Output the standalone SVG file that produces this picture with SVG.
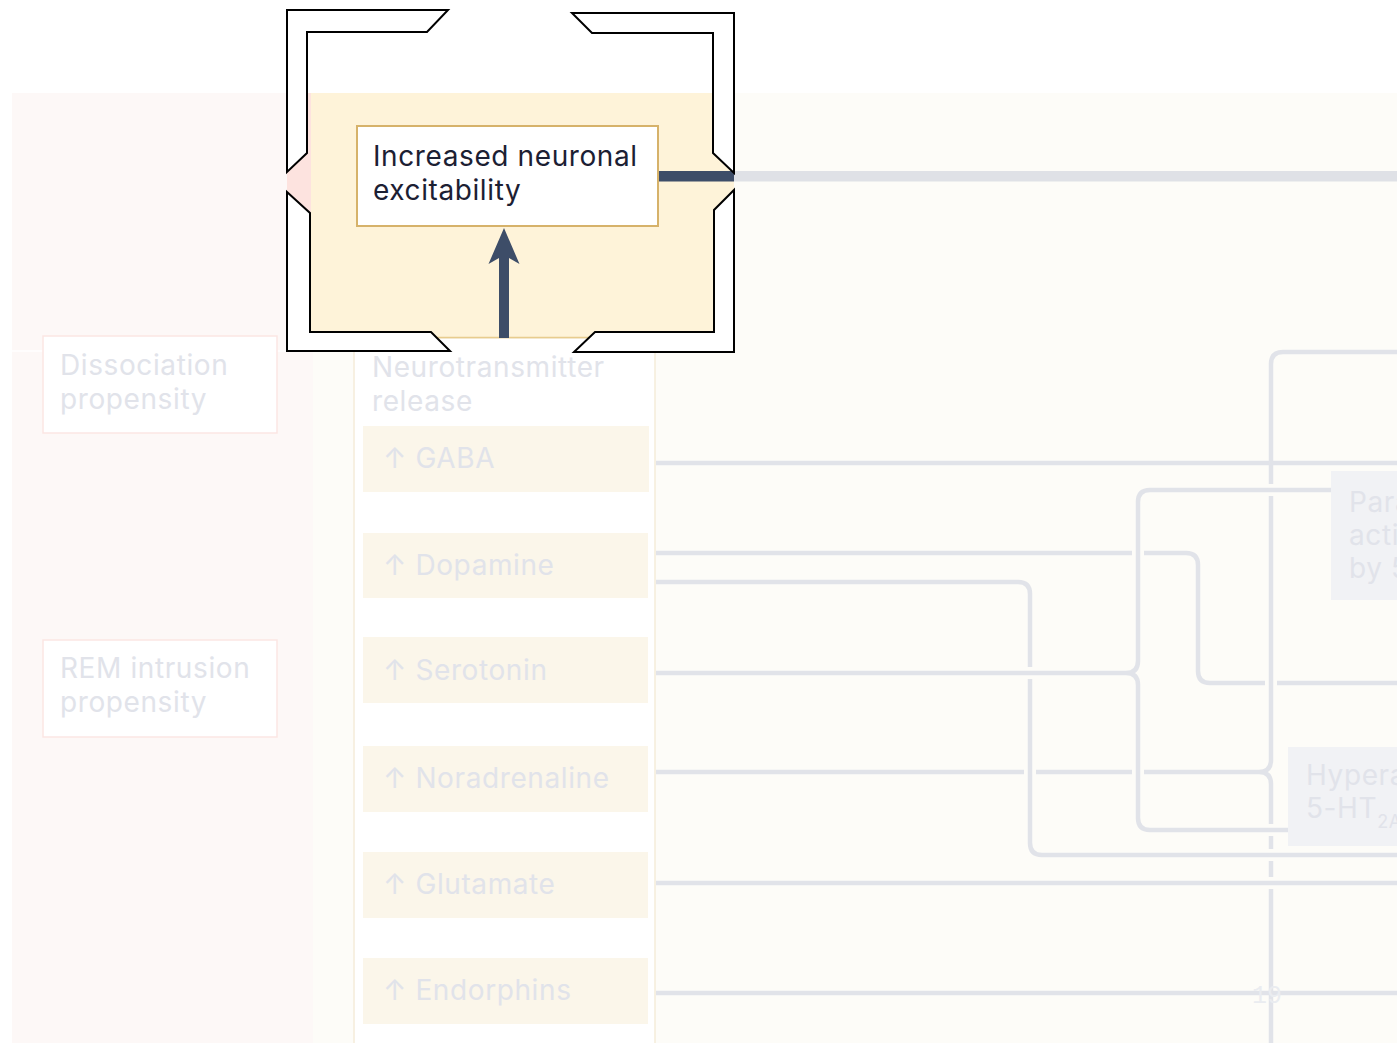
<svg xmlns="http://www.w3.org/2000/svg" width="1397" height="1043" viewBox="0 0 1397 1043">
<style>
  .t { font-family: Inter, "Liberation Sans", sans-serif; font-size: 28px; letter-spacing: 0.6px; }
  .dark { fill: #1c2033; }
  .faded { fill: #e1e3ea; }
  .item { fill: #fbf6ea; }
  .lbox { fill: #ffffff; stroke: #fbe6e4; stroke-width: 1.5; }
  .rbox { fill: #f1f2f5; }
  .conn { fill: none; stroke: #e1e3e9; stroke-width: 4.5; }
  .halo { fill: none; stroke: #fdfcf8; stroke-width: 12; }
  .frame { fill: #ffffff; stroke: #000000; stroke-width: 2; stroke-linejoin: miter; }
</style>
<rect width="1397" height="1043" fill="#ffffff"/>
<g id="background">
  <rect x="12" y="93" width="1385" height="950" fill="#fdfcf8"/>
  <rect x="12" y="93" width="301" height="950" fill="#fdf8f7"/>
  <line x1="12" y1="351" x2="313" y2="351" stroke="#ffffff" stroke-width="1.5"/>
  <rect x="354" y="338" width="301" height="710" fill="#ffffff" stroke="#f5ecd9" stroke-width="1.5"/>
  <rect x="287" y="93" width="26" height="258" fill="#fde3df"/>
  <rect x="311" y="93" width="423" height="245" fill="#fef3d9"/>
  <line x1="311" y1="337.5" x2="713" y2="337.5" stroke="#e8cc8e" stroke-width="1.5"/>
</g>
<g id="connectors">
  <path class="halo" d="M656,553 H1186 Q1198,553 1198,565 V671 Q1198,683 1210,683 H1397"/>
  <path class="conn" d="M656,553 H1186 Q1198,553 1198,565 V671 Q1198,683 1210,683 H1397"/>
  <path class="halo" d="M656,772 H1259 Q1271,772 1271,760 V364 Q1271,352 1283,352 H1397 M1259,772 Q1271,772 1271,784 V1043"/>
  <path class="conn" d="M656,772 H1259 Q1271,772 1271,760 V364 Q1271,352 1283,352 H1397 M1259,772 Q1271,772 1271,784 V1043"/>
  <path class="halo" d="M656,582 H1018 Q1030,582 1030,594 V843 Q1030,855 1042,855 H1397"/>
  <path class="conn" d="M656,582 H1018 Q1030,582 1030,594 V843 Q1030,855 1042,855 H1397"/>
  <path class="halo" d="M656,673 H1126 Q1138,673 1138,661 V502 Q1138,490 1150,490 H1331 M1126,673 Q1138,673 1138,685 V818 Q1138,830 1150,830 H1288"/>
  <path class="conn" d="M656,673 H1126 Q1138,673 1138,661 V502 Q1138,490 1150,490 H1331 M1126,673 Q1138,673 1138,685 V818 Q1138,830 1150,830 H1288"/>
  <path class="halo" d="M656,883 H1397"/>
  <path class="conn" d="M656,883 H1397"/>
  <path class="conn" d="M656,463 H1397" stroke-width="6.5"/>
  <path class="conn" d="M656,993 H1397"/>
  <rect x="734" y="171" width="663" height="10.5" fill="#dfe1e6"/>
  <rect x="658" y="171" width="76" height="10.5" fill="#3d4d68"/>
  <polygon points="504,228 519.5,264 509,258 509,338 499,338 499,258 488.5,264" fill="#3d4d68"/>
  <text x="1252" y="1003" font-family="'Liberation Mono', monospace" font-size="25" fill="#eaecf0">19</text>
</g>
<g id="node-dissociation">
  <rect class="lbox" x="43" y="336" width="234" height="97"/>
  <text class="t faded" x="60" y="375">Dissociation</text>
  <text class="t faded" x="60" y="409">propensity</text>
</g>
<g id="node-rem">
  <rect class="lbox" x="43" y="640" width="234" height="97"/>
  <text class="t faded" x="60" y="678">REM intrusion</text>
  <text class="t faded" x="60" y="712">propensity</text>
</g>
<g id="node-neurotransmitter">
  <text class="t faded" x="372" y="377">Neurotransmitter</text>
  <text class="t faded" x="372" y="411">release</text>
</g>
<g id="node-gaba"><rect class="item" x="363" y="426" width="286" height="66"/><text class="t faded" x="383" y="468">↑ GABA</text></g>
<g id="node-dopamine"><rect class="item" x="363" y="533" width="285" height="65"/><text class="t faded" x="383" y="575">↑ Dopamine</text></g>
<g id="node-serotonin"><rect class="item" x="363" y="637" width="285" height="66"/><text class="t faded" x="383" y="680">↑ Serotonin</text></g>
<g id="node-noradrenaline"><rect class="item" x="363" y="746" width="285" height="66"/><text class="t faded" x="383" y="788">↑ Noradrenaline</text></g>
<g id="node-glutamate"><rect class="item" x="363" y="852" width="285" height="66"/><text class="t faded" x="383" y="894">↑ Glutamate</text></g>
<g id="node-endorphins"><rect class="item" x="363" y="958" width="285" height="66"/><text class="t faded" x="383" y="1000">↑ Endorphins</text></g>
<g id="node-para">
  <rect class="rbox" x="1331" y="471" width="70" height="129"/>
  <text class="t faded" x="1349" y="512">Para</text>
  <text class="t faded" x="1349" y="545">acti</text>
  <text class="t faded" x="1349" y="578">by 5</text>
</g>
<g id="node-hypera">
  <rect class="rbox" x="1288" y="747" width="120" height="99"/>
  <text class="t faded" x="1306" y="785">Hypera</text>
  <text class="t faded" x="1306" y="818">5-HT<tspan font-size="18" dy="10">2A</tspan></text>
</g>
<g id="node-excitability">
  <rect x="357" y="126" width="301" height="100" fill="#ffffff" stroke="#d6b26a" stroke-width="2"/>
  <text class="t dark" x="373" y="166">Increased neuronal</text>
  <text class="t dark" x="373" y="200">excitability</text>
</g>
<g id="focus-frame">
  <polygon class="frame" points="287,10 448,10 427,32 307,32 307,153 287,172"/>
  <polygon class="frame" points="287,192 310,213 310,332 431,332 450,351 287,351"/>
  <polygon class="frame" points="572,13 734,13 734,173 713,153 713,33 592,33"/>
  <polygon class="frame" points="734,190 734,352 574,352 595,332 714,332 714,210"/>
</g>
</svg>
